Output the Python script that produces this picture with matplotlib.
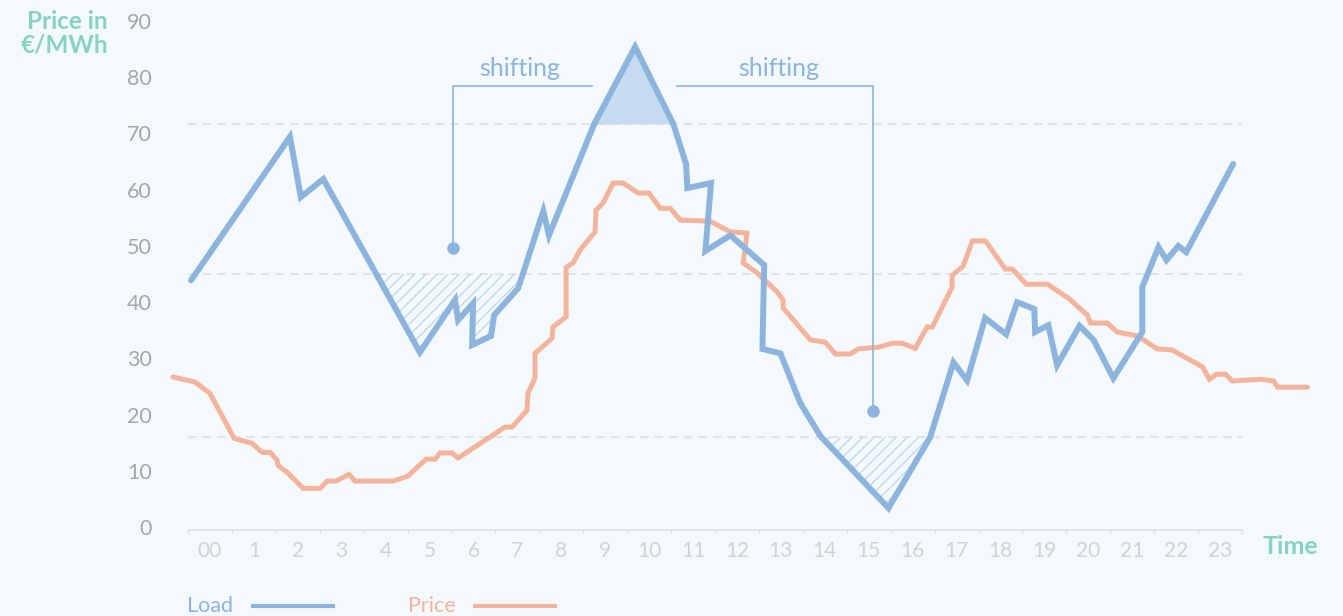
import matplotlib.pyplot as plt
import numpy as np
from matplotlib.lines import Line2D

# hour labels sit in the middle of each hour slot
hour_labels = ["00"] + [str(h) for h in range(1, 24)]
y_ticks = list(range(0, 91, 10))

# load curve (time in hours, value on the price scale)
load_t = [0.07, 2.32, 2.57, 3.08, 5.28, 6.08, 6.15, 6.49, 6.47, 6.90, 6.97, 7.52,
          8.09, 8.22, 9.25, 10.18, 11.05, 11.34, 11.37, 11.91, 11.78, 12.35, 13.12,
          13.08, 13.49, 13.94, 14.40, 15.95, 16.90, 17.43, 17.74, 18.15, 18.63, 18.88,
          19.27, 19.29, 19.59, 19.79, 20.30, 20.62, 21.07, 21.73, 21.73, 22.10, 22.28,
          22.55, 22.73, 23.80]
load_v = [43.9, 69.4, 58.7, 61.9, 31.1, 40.4, 36.8, 39.8, 32.4, 34.0, 37.7, 42.5,
          56.2, 51.9, 71.7, 85.4, 71.7, 64.6, 60.3, 61.2, 49.1, 51.9, 46.6,
          31.7, 30.9, 22.1, 16.2, 3.4, 16.0, 29.3, 26.1, 37.2, 34.3, 40.0,
          38.8, 34.7, 35.9, 28.8, 35.8, 33.3, 26.5, 34.7, 42.7, 49.8, 47.5,
          50.0, 48.9, 64.6]

# price curve
price_t = [-0.34, 0.16, 0.50, 1.05, 1.46, 1.69, 1.87, 2.03, 2.05, 2.28, 2.62, 3.01,
           3.17, 3.37, 3.67, 3.80, 4.67, 5.01, 5.42, 5.63, 5.74, 6.01, 6.15, 7.22,
           7.38, 7.72, 7.74, 7.90, 7.90, 8.29, 8.31, 8.61, 8.61, 8.77, 8.93, 9.27,
           9.29, 9.45, 9.68, 9.91, 10.25, 10.50, 10.75, 10.98, 11.21, 11.89, 12.35,
           12.73, 12.64, 12.96, 13.42, 13.55, 13.55, 14.17, 14.51, 14.74, 15.08,
           15.26, 15.72, 16.04, 16.26, 16.56, 16.83, 16.95, 17.40, 17.40, 17.65,
           17.86, 18.16, 18.61, 18.77, 19.09, 19.57, 20.05, 20.48, 20.55, 20.93,
           21.16, 21.62, 22.07, 22.41, 23.10, 23.26, 23.42, 23.62, 23.78, 24.42,
           24.72, 24.81, 25.49]
price_v = [26.7, 25.8, 23.8, 15.8, 14.9, 13.3, 13.3, 11.9, 11.0, 9.6, 6.9, 6.9,
           8.2, 8.2, 9.4, 8.2, 8.2, 9.1, 12.1, 12.1, 13.2, 13.2, 12.3, 17.8,
           17.8, 20.8, 23.8, 26.5, 30.9, 33.6, 35.6, 37.4, 46.2, 47.0, 49.3, 52.5,
           56.4, 57.6, 61.2, 61.2, 59.4, 59.4, 56.7, 56.7, 54.6, 54.4, 52.5,
           52.3, 47.0, 45.2, 41.8, 40.4, 39.0, 33.3, 32.9, 30.8, 30.8,
           31.7, 32.0, 32.7, 32.7, 31.8, 35.6, 35.6, 42.7, 44.8, 46.4,
           50.9, 50.9, 45.9, 45.9, 43.2, 43.2, 40.7, 37.7, 36.3, 36.3,
           34.7, 34.0, 31.7, 31.5, 28.5, 26.3, 27.2, 27.2, 26.0, 26.3,
           26.0, 24.9, 24.9]

# reference levels: peak cut and the two valleys that get filled
peak_level = 71.7
valley_levels = [45.0, 16.0]
valley_spans = [(4.0, 8.0), (14.0, 17.0)]

# "shifting" arrows: text position, bracket corner, end point
shift_text = [(7.56, 81.6), (13.44, 81.6)]
shift_bar = [(9.20, 78.4), (11.14, 78.4)]
shift_end = [(6.04, 49.6), (15.60, 20.6)]

BG = "#f4f9fe"
BLUE = "#8db4dc"
SALMON = "#f4b49c"
TEAL = "#86d3c4"
FONT = ["Lato", "DejaVu Sans"]

plt.rcParams["font.family"] = FONT
plt.rcParams["hatch.linewidth"] = 1.0

fig = plt.figure(figsize=(13.43, 6.16), dpi=100, facecolor=BG)
ax = fig.add_axes([188 / 1343, 86 / 616, 1054 / 1343, 509 / 616])
ax.set_facecolor(BG)
ax.set_xlim(0, 24)
ax.set_ylim(-0.5, 90)

for s in ["top", "right", "left"]:
    ax.spines[s].set_visible(False)
ax.spines["bottom"].set_color("#dfe3e7")
ax.spines["bottom"].set_linewidth(1.2)

# dashed reference lines
for lvl in [peak_level] + valley_levels:
    ax.plot([0, 24], [lvl, lvl], color="#e0e3e7", lw=1.5, dashes=(4, 3), zorder=1)

t = np.array(load_t)
v = np.array(load_v)
ax.fill_between(t, v, peak_level, where=v > peak_level, interpolate=True,
                color="#c6dbef", lw=0, zorder=2)
for lvl, (t0, t1) in zip(valley_levels, valley_spans):
    mask = (v < lvl) & (t > t0) & (t < t1)
    ax.fill_between(t, v, lvl, where=mask, interpolate=True, facecolor="none",
                    edgecolor="#c2d8ef", hatch="///", lw=0, zorder=2)

ax.plot(price_t, price_v, color=SALMON, lw=3.6, solid_joinstyle="miter",
        solid_capstyle="round", clip_on=False, zorder=3)
ax.plot(load_t, load_v, color=BLUE, lw=4.3, solid_joinstyle="miter",
        solid_capstyle="round", clip_on=False, zorder=4)

# shifting brackets
for (tx, ty), (bx, by), (ex, ey) in zip(shift_text, shift_bar, shift_end):
    ax.plot([ex, ex, bx], [ey, by, by], color=BLUE, lw=1.2, zorder=3)
    ax.plot([ex], [ey], "o", color=BLUE, ms=8, zorder=3)
    ax.text(tx, ty, "shifting", color=BLUE, fontsize=18, ha="center", va="center")

# ticks
ax.set_xticks(range(0, 25))
ax.set_xticklabels([])
ax.set_xticks(np.arange(24) + 0.5, minor=True)
ax.set_xticklabels(hour_labels, minor=True)
ax.tick_params(axis="x", which="major", length=3, color="#dfe3e7", width=1)
ax.tick_params(axis="x", which="minor", length=0, pad=8, labelsize=15,
               labelcolor="#cfd3d7")
ax.set_yticks(y_ticks)
ax.tick_params(axis="y", length=0, pad=26, labelsize=15.5, labelcolor="#a6a6a6")

# axis titles
fig.text(108 / 1343, 1 - 33 / 616, "Price in\n€/MWh", ha="right", va="center",
         color=TEAL, fontsize=17.5, fontweight="bold", linespacing=1.05,
         multialignment="right")
fig.text(1290 / 1343, 1 - 547 / 616, "Time", ha="center", va="center",
         color=TEAL, fontsize=18, fontweight="bold")

# legend drawn by hand at the bottom
fig.text(210 / 1343, 1 - 606 / 616, "Load", ha="center", va="center",
         color=BLUE, fontsize=15.5)
fig.add_artist(Line2D([253 / 1343, 333 / 1343], [1 - 606 / 616] * 2,
                      color=BLUE, lw=3, transform=fig.transFigure))
fig.text(432 / 1343, 1 - 606 / 616, "Price", ha="center", va="center",
         color=SALMON, fontsize=15.5)
fig.add_artist(Line2D([475 / 1343, 555 / 1343], [1 - 606 / 616] * 2,
                      color=SALMON, lw=3, transform=fig.transFigure))

fig.savefig("out.png", dpi=100, facecolor=BG)
